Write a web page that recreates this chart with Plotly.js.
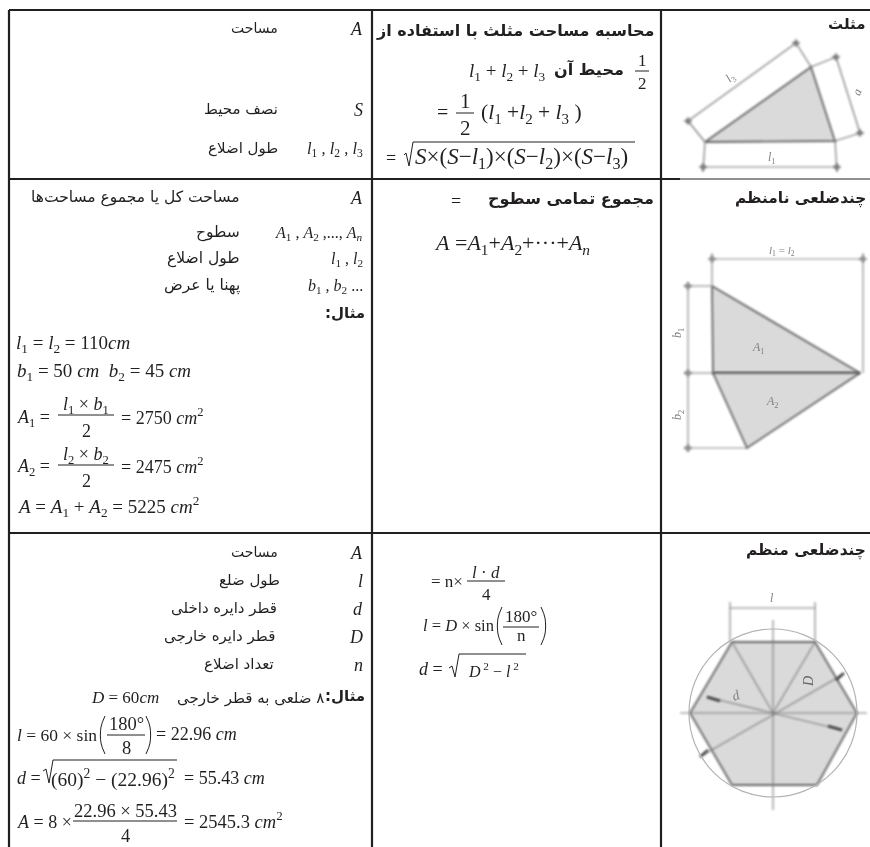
<!DOCTYPE html>
<html>
<head>
<meta charset="utf-8">
<script src="https://cdn.plot.ly/plotly-3.0.1.min.js"></script>
<style>body { margin: 0; background: #fff; }</style>
</head>
<body>
<div id="chart" style="width:870px;height:847px"></div>
<script>
var L1 = '<i>l</i><sub>1</sub>', L2 = '<i>l</i><sub>2</sub>', L3 = '<i>l</i><sub>3</sub>';
var B1 = '<i>b</i><sub>1</sub>', B2 = '<i>b</i><sub>2</sub>';
var A1 = '<i>A</i><sub>1</sub>', A2 = '<i>A</i><sub>2</sub>';

// row headings
var shapeNames = ['مثلث', 'چندضلعی نامنظم', 'چندضلعی منظم'];

// left column, symbol + description
var row1Symbols = ['<i>A</i>', '<i>S</i>', L1 + ' , ' + L2 + ' , ' + L3];
var row1Names = ['مساحت', 'نصف محیط', 'طول اضلاع'];
var row2Symbols = ['<i>A</i>', A1 + ' , ' + A2 + ' ,..., <i>A</i><sub><i>n</i></sub>', L1 + ' , ' + L2, B1 + ' , ' + B2 + ' ...'];
var row2Names = ['مساحت کل یا مجموع مساحت‌ها', 'سطوح', 'طول اضلاع', 'پهنا یا عرض'];
var row3Symbols = ['<i>A</i>', '<i>l</i>', '<i>d</i>', '<i>D</i>', '<i>n</i>'];
var row3Names = ['مساحت', 'طول ضلع', 'قطر دایره داخلی', 'قطر دایره خارجی', 'تعداد اضلاع'];

var exampleWord = 'مثال:\u200F';
var octagonNote = '\u200F۸ ضلعی به قطر خارجی';

// heading text of the formula column
var triangleTitle = 'محاسبه مساحت مثلث با استفاده از';
var perimeterWord = 'محیط آن';
var sumTitle = 'مجموع تمامی سطوح';

// table rules
var ruleV = [9, 372, 661];
var ruleH = [10, 179, 533];

// triangle figure
var triX = [705, 835, 811], triY = [142, 141, 67];
var triDims = [
    [[688, 796], [121, 43]], [[705, 688], [142, 121]], [[811, 796], [67, 43]],
    [[811, 836], [67, 57]], [[836, 860], [57, 133]], [[835, 860], [141, 133]],
    [[703, 837], [167, 167]], [[705, 703], [142, 172]], [[835, 837], [141, 172]]
];
var triTickX = [688, 796, 836, 860, 703, 837], triTickY = [121, 43, 57, 133, 167, 167];

// irregular polygon figure
var upperX = [712, 860, 713], upperY = [286, 373, 373];
var lowerX = [713, 860, 747], lowerY = [373, 373, 448];
var polyDims = [
    [[712, 863], [259, 259]], [[712, 712], [253, 286]], [[863, 863], [253, 373]],
    [[688, 688], [282, 452]], [[684, 712], [286, 286]], [[684, 713], [373, 373]], [[684, 747], [448, 448]]
];
var polyTickX = [712, 863, 688, 688, 688], polyTickY = [259, 259, 286, 373, 448];

// hexagon figure
var hexX = [732, 815, 857, 817, 732, 690], hexY = [642, 642, 713, 785, 785, 713];
var hexLines = [
    [[773, 732], [713, 642]], [[773, 815], [713, 642]], [[773, 773], [620, 810]], [[680, 867], [713, 713]],
    [[703, 842], [755, 675]], [[707, 842], [697, 730]],
    [[730, 815], [608, 608]], [[730, 730], [602, 642]], [[815, 815], [602, 642]]
];
var hexTicks = [
    [[836, 844], [680, 673]], [[708, 700], [750, 757]],
    [[707, 720], [697, 701]], [[842, 828], [730, 726]]
];
var outerCircle = [689, 629, 857, 797];

var annotations = [];
var serif = 'Liberation Serif, serif';
var arabic = 'DejaVu Sans, sans-serif';

function txt(x, y, s, size, anchor, family, bold, color, angle) {
    annotations.push({
        x: x, y: y, text: bold ? '<b>' + s + '</b>' : s, showarrow: false,
        xanchor: anchor || 'left', yanchor: 'middle', borderpad: 0, textangle: angle || 0,
        font: { family: family || serif, size: size, color: color || '#231f20' }
    });
}

function math(x, y, s, size, anchor) { txt(x, y, s, size || 18, anchor); }
function fa(x, y, s, size, bold) { txt(x, y, s, size || 15, 'right', arabic, bold); }

var tableTraces = [];
function rule(xs, ys, w) {
    tableTraces.push({ x: xs, y: ys, mode: 'lines', line: { color: '#231f20', width: w || 2.2 }, hoverinfo: 'skip' });
}

// fraction: numerator, bar, denominator
function frac(cx, halfWidth, barY, top, bottom, size, topGap, bottomGap) {
    math(cx, barY - topGap, top, size, 'center');
    math(cx, barY + bottomGap, bottom, size, 'center');
    rule([cx - halfWidth, cx + halfWidth], [barY, barY], 1);
}

// tall thin bracket, side is -1 for left and 1 for right
function paren(x, top, bottom, side) {
    tableTraces.push({
        x: [x - side * 4, x, x, x - side * 4], y: [top, top + 11, bottom - 11, bottom], mode: 'lines',
        line: { color: '#231f20', width: 1, shape: 'spline' }, hoverinfo: 'skip'
    });
}

// table
rule([ruleV[0], 870], [ruleH[0], ruleH[0]]);
rule([ruleV[0], 680], [ruleH[1], ruleH[1]]);
rule([680, 870], [ruleH[1], ruleH[1]], 1);
rule([ruleV[0], 870], [ruleH[2], ruleH[2]]);
ruleV.forEach(function (x) { rule([x, x], [ruleH[0], 847]); });

// headings
fa(866, 24, shapeNames[0], 15, true);
fa(867, 198, shapeNames[1], 15.4, true);
fa(867, 550, shapeNames[2], 15.4, true);

// left column, row 1
var row1Y = [29, 110, 149];
row1Symbols.forEach(function (s, i) { math(364, row1Y[i], s, i == 2 ? 16.5 : 18, 'right'); });
row1Names.forEach(function (s, i) { fa(279, row1Y[i] - 1, s, i == 0 ? 14 : 15); });

// formula column, row 1
fa(655, 30, triangleTitle, 16, true);
frac(642, 7, 71, '1', '2', 17, 11, 12);
fa(625, 69, perimeterWord, 16, true);
math(547, 72, L1 + ' + ' + L2 + ' + ' + L3, 19, 'right');
math(436, 112, '=', 20);
frac(465, 9, 113, '1', '2', 21, 12, 15);
math(480, 113, '(' + L1 + ' +' + L2 + ' + ' + L3 + ' )', 21.5);
math(385, 158, '=', 18);
rule([404, 406, 409, 413, 635], [155, 153, 166, 142, 142], 1);
math(414, 158, '<i>S</i>×(<i>S</i>−' + L1 + ')×(<i>S</i>−' + L2 + ')×(<i>S</i>−' + L3 + ')', 23);

// left column, row 2
var row2Y = [198, 233, 259, 286];
row2Symbols.forEach(function (s, i) { math(364, row2Y[i], s, i == 0 ? 18 : 16, 'right'); });
row2Names.forEach(function (s, i) { fa(241, row2Y[i] - 1, s, 15.5); });
fa(366, 313, exampleWord, 15, true);
math(15, 344, L1 + ' = ' + L2 + ' = 110<i>cm</i>', 19);
math(16, 372, B1 + ' = 50 <i>cm</i>  ' + B2 + ' = 45 <i>cm</i>', 19);
math(16, 418, A1 + ' =', 18);
frac(86, 28, 415, L1 + ' × ' + B1, '2', 18, 10, 16);
math(120, 416, '= 2750 <i>cm</i><sup>2</sup>', 18);
math(16, 467, A2 + ' =', 18);
frac(86, 28, 465, L2 + ' × ' + B2, '2', 18, 10, 16);
math(120, 465, '= 2475 <i>cm</i><sup>2</sup>', 18);
math(16, 506, '<i>A</i> = ' + A1 + ' + ' + A2 + ' = 5225 <i>cm</i><sup>2</sup>', 19);

// formula column, row 2
fa(655, 198, sumTitle, 16, true);
math(450, 201, '=', 18);
math(433, 244, '<i>A</i> =' + A1 + '+' + A2 + '+···+<i>A</i><sub><i>n</i></sub>', 22);

// left column, row 3
var row3Y = [553, 581, 609, 637, 665];
row3Symbols.forEach(function (s, i) { math(364, row3Y[i], s, 18, 'right'); });
var row3NameX = [279, 281, 278, 276, 275];
row3Names.forEach(function (s, i) { fa(row3NameX[i], row3Y[i] - 1, s, i == 0 ? 14 : 15); });
fa(366, 696, exampleWord, 15, true);
fa(325, 698, octagonNote, 15);
math(90, 697, '<i>D</i> = 60<i>cm</i>', 17);

math(16, 735, '<i>l</i> = 60 × sin', 17.5);
paren(101, 716, 754, -1);
frac(126, 19, 735, '180°', '8', 18.5, 11, 13);
paren(150, 716, 754, 1);
math(155, 734, '= 22.96 <i>cm</i>', 18);

math(16, 778, '<i>d</i> =', 18);
rule([43, 46, 49, 53, 177], [771, 769, 783, 760, 760], 1);
math(50, 778, '(60)<sup>2</sup> − (22.96)<sup>2</sup>', 19.5);
math(183, 778, '= 55.43 <i>cm</i>', 18);

math(16, 822, '<i>A</i> = 8 ×', 18);
frac(125, 52, 821, '22.96 × 55.43', '4', 18.5, 10, 15);
math(183, 820, '= 2545.3 <i>cm</i><sup>2</sup>', 18.5);

// formula column, row 3
math(430, 581, '= n×', 17);
frac(486, 19, 581, '<i>l</i> · <i>d</i>', '4', 17, 9, 13);
math(422, 625, '<i>l</i> = <i>D</i> × sin', 16.5);
paren(498, 607, 645, -1);
frac(521, 18, 627, '180°', 'n', 17, 11, 8);
paren(545, 607, 645, 1);
math(418, 669, '<i>d</i> =', 18);
rule([449, 452, 455, 459, 526], [668, 666, 677, 654, 654], 1);
math(467, 670, '<i>D</i><sup> 2</sup> − <i>l</i><sup> 2</sup>', 16);

// figures, blurred after plotting like the scanned originals
var figureTraces = [];
var figLine = '#7c7c7c', figFill = '#dadada', figEdge = '#666';
function poly(xs, ys) {
    figureTraces.push({
        x: xs.concat(xs[0]), y: ys.concat(ys[0]), mode: 'lines', fill: 'toself', fillcolor: figFill,
        line: { color: figEdge, width: 1.8 }, hoverinfo: 'skip'
    });
}
function segs(list, color, width) {
    list.forEach(function (s) {
        figureTraces.push({ x: s[0], y: s[1], mode: 'lines', line: { color: color, width: width }, hoverinfo: 'skip' });
    });
}
function ticks(xs, ys, color) {
    figureTraces.push({ x: xs, y: ys, mode: 'markers', marker: { symbol: 'cross', size: 6, color: color }, hoverinfo: 'skip' });
}

segs(triDims, figLine, 1.2);
ticks(triTickX, triTickY, figLine);
poly(triX, triY);
segs(polyDims, '#8e8e8e', 1.2);
ticks(polyTickX, polyTickY, '#8e8e8e');
poly(upperX, upperY);
poly(lowerX, lowerY);
poly(hexX, hexY);
segs(hexLines, figLine, 1.1);
segs(hexTicks, '#444', 2.5);

var nText = annotations.length;
var figLabel = '#808080';
txt(731, 78, L3, 12, 'center', serif, false, figLabel, -40);
txt(857, 92, '<i>a</i>', 12, 'center', serif, false, figLabel, -70);
txt(772, 158, L1, 12, 'center', serif, false, figLabel);
txt(782, 251, L1 + ' = ' + L2, 11, 'center', serif, false, figLabel);
txt(678, 333, B1, 12, 'center', serif, false, figLabel, -90);
txt(678, 415, B2, 12, 'center', serif, false, figLabel, -90);
txt(758, 348, A1, 12, 'center', serif, false, figLabel);
txt(772, 402, A2, 12, 'center', serif, false, figLabel);
txt(772, 598, '<i>l</i>', 12, 'center', serif, false, figLabel);
txt(736, 695, '<i>d</i>', 14, 'center', serif, false, figLabel, -20);
txt(808, 682, '<i>D</i>', 14, 'center', serif, false, '#666', -90);

var layout = {
    width: 870, height: 847, showlegend: false,
    margin: { l: 0, r: 0, t: 0, b: 0 },
    paper_bgcolor: '#fff', plot_bgcolor: '#fff',
    xaxis: { range: [0, 870], visible: false, fixedrange: true },
    yaxis: { range: [847, 0], visible: false, fixedrange: true },
    annotations: annotations,
    shapes: [{
        type: 'circle', x0: outerCircle[0], y0: outerCircle[1], x1: outerCircle[2], y1: outerCircle[3],
        line: { color: '#b4b4b4', width: 1.2 }
    }]
};

Plotly.newPlot('chart', tableTraces.concat(figureTraces), layout, { displayModeBar: false, staticPlot: true }).then(function () {
    var traces = document.querySelectorAll('.scatterlayer .trace');
    for (var i = tableTraces.length; i < traces.length; i++) traces[i].style.filter = 'blur(0.8px)';
    var notes = document.querySelectorAll('.annotation');
    for (var j = nText; j < notes.length; j++) notes[j].style.filter = 'blur(0.7px)';
});
</script>
</body>
</html>
